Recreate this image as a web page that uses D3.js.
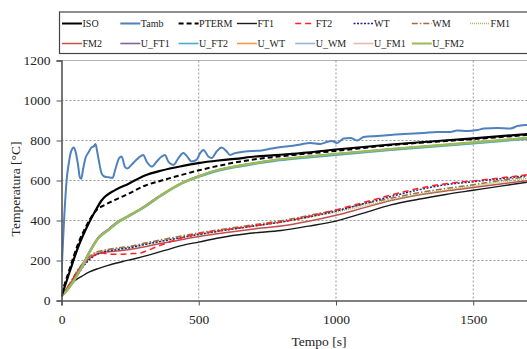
<!DOCTYPE html>
<html><head><meta charset="utf-8">
<script src="https://cdn.jsdelivr.net/npm/d3@7"></script>
<style>body{margin:0;background:#fff}svg{display:block}</style>
</head><body>
<svg id="c" width="527" height="349"></svg>
<script>
// ---------- DATA ----------
const xTicks = [0, 500, 1000, 1500];
const yTicks = [0, 200, 400, 600, 800, 1000, 1200];
const seriesNames = ["ISO","Tamb","PTERM","FT1","FT2","WT","WM","FM1","FM2","U_FT1","U_FT2","U_WT","U_WM","U_FM1","U_FM2"];

const ISO = [[0,20],[30,145],[60,265],[90,360],[122,445],[146,500],[195,552],[243,583],[304,625],[365,650],[438,672],[498,687],[571,700],[632,708],[705,720],[778,727],[840,733],[1000,755],[1200,780],[1500,811],[1720,835]];
const Tamb = [[0,140],[10,420],[20,620],[27,690],[33,736],[40,760],[45,765],[52,740],[60,680],[67,615],[72,609],[79,660],[88,715],[98,740],[110,766],[117,770],[124,782],[130,745],[136,700],[146,636],[156,620],[171,616],[186,613],[196,655],[210,712],[219,720],[231,669],[240,660],[255,678],[270,700],[280,712],[298,728],[310,695],[329,670],[347,695],[365,720],[377,728],[389,695],[408,678],[426,712],[444,737],[456,723],[474,695],[492,703],[505,737],[517,753],[535,720],[547,712],[565,745],[583,765],[602,745],[614,728],[632,737],[669,745],[700,748],[729,750],[766,760],[802,768],[833,772],[870,780],[906,788],[943,783],[967,793],[985,797],[1004,788],[1028,810],[1052,813],[1077,800],[1101,817],[1150,822],[1198,827],[1247,833],[1283,835],[1320,838],[1369,843],[1417,843],[1441,850],[1478,847],[1515,852],[1539,860],[1588,863],[1636,860],[1661,872],[1697,877],[1720,875]];
const PTERM = [[0,32],[30,160],[60,282],[90,372],[120,440],[135,462],[146,470],[195,503],[243,533],[304,574],[365,600],[438,628],[498,650],[571,673],[632,690],[705,706],[778,718],[840,727],[1000,748],[1200,777],[1500,807],[1720,830]];
const FT1 = [[0,20],[15,50],[33,78],[50,100],[75,122],[100,142],[136,161],[170,176],[221,194],[270,210],[317,227],[380,252],[445,277],[500,292],[566,311],[687,336],[800,350],[900,372],[1000,397],[1100,437],[1200,478],[1300,506],[1400,530],[1500,551],[1600,572],[1720,596]];
const FT2 = [[0,20],[30,82],[60,150],[90,198],[120,226],[150,238],[170,232],[200,231],[250,234],[281,236],[310,248],[340,265],[378,285],[420,305],[450,318],[500,334],[600,354],[700,373],[800,393],[900,420],[1000,453],[1100,490],[1200,527],[1300,560],[1400,584],[1500,598],[1600,613],[1720,633]];
const WT = [[0,20],[30,75],[60,133],[90,188],[120,224],[150,241],[200,254],[250,264],[300,279],[400,305],[500,330],[600,352],[700,372],[800,392],[900,418],[1000,447],[1100,484],[1200,520],[1300,553],[1400,579],[1500,594],[1600,609],[1720,628]];
const WM = [[0,20],[30,85],[60,155],[90,205],[120,238],[150,250],[200,262],[250,271],[300,286],[400,313],[500,338],[600,359],[700,379],[800,399],[900,425],[1000,452],[1100,482],[1200,511],[1300,539],[1400,560],[1500,579],[1600,600],[1720,624]];
const FM1 = [[0,20],[30,82],[60,150],[90,202],[120,235],[150,247],[200,258],[250,267],[300,281],[400,307],[500,331],[600,352],[700,372],[800,392],[900,416],[1000,443],[1100,472],[1200,502],[1300,530],[1400,552],[1500,572],[1600,592],[1720,614]];
const FM2 = [[0,20],[30,80],[60,145],[90,195],[120,228],[150,240],[200,247],[250,255],[300,268],[350,282],[400,295],[500,320],[600,340],[700,358],[800,372],[900,396],[1000,426],[1100,463],[1200,500],[1300,528],[1400,548],[1500,565],[1600,583],[1720,603]];
const U_FT1 = [[0,20],[20,52],[40,92],[75,174],[100,241],[136,320],[171,357],[208,398],[243,420],[304,473],[365,530],[438,588],[498,621],[571,653],[632,670],[705,687],[778,702],[840,711],[1000,732],[1200,756],[1500,789],[1720,814]];
const U_FT2 = [[0,20],[20,49],[40,86],[75,167],[100,233],[136,312],[171,350],[208,391],[243,418],[304,467],[365,524],[438,583],[498,616],[571,648],[632,665],[705,682],[778,697],[840,706],[1000,727],[1200,751],[1500,784],[1720,809]];
const U_WT = [[0,20],[20,50],[40,88],[75,169],[100,236],[136,316],[171,353],[208,394],[243,421],[304,470],[365,527],[438,586],[498,619],[571,651],[632,668],[705,685],[778,700],[840,709],[1000,730],[1200,754],[1500,787],[1720,812]];
const U_WM = [[0,20],[20,51],[40,90],[75,171],[100,239],[136,318],[171,356],[208,397],[243,424],[304,472],[365,529],[438,588],[498,621],[571,654],[632,671],[705,688],[778,704],[840,713],[1000,734],[1200,758],[1500,791],[1720,816]];
const U_FM1 = [[0,22],[20,50],[40,87],[75,168],[100,235],[136,314],[171,352],[208,393],[243,421],[304,469],[365,527],[438,586],[498,619],[571,652],[632,669],[705,686],[778,702],[840,711],[1000,732],[1200,756],[1500,789],[1720,814]];
const U_FM2 = [[0,20],[20,50],[40,88],[75,169],[100,236],[136,315],[171,353],[208,394],[243,422],[304,470],[365,528],[438,587],[498,620],[571,653],[632,670],[705,687],[778,703],[840,712],[1000,733],[1200,757],[1500,790],[1720,815]];

const seriesData = [ISO,Tamb,PTERM,FT1,FT2,WT,WM,FM1,FM2,U_FT1,U_FT2,U_WT,U_WM,U_FM1,U_FM2];

// ---------- STYLES ----------
const styles = {
  ISO:{c:"#000",w:2.2,d:null},
  Tamb:{c:"#4F81BD",w:2,d:null},
  PTERM:{c:"#000",w:2,d:"5,3"},
  FT1:{c:"#1a1a1a",w:1.4,d:null},
  FT2:{c:"#FF2020",w:1.5,d:"6,4"},
  WT:{c:"#1F1F8F",w:1.5,d:"2,1.5"},
  WM:{c:"#A0703C",w:1.5,d:"6,2,1.5,2"},
  FM1:{c:"#9BBB59",w:1.5,d:"1,1"},
  FM2:{c:"#C0504D",w:1.5,d:null},
  U_FT1:{c:"#8064A2",w:1.6,d:null},
  U_FT2:{c:"#4BACC6",w:1.6,d:null},
  U_WT:{c:"#F79646",w:1.6,d:null},
  U_WM:{c:"#95B3D7",w:1.6,d:null},
  U_FM1:{c:"#E6B9B8",w:1.6,d:null},
  U_FM2:{c:"#9BBB59",w:2.4,d:null}
};

const svg = d3.select("#c");
const X0 = 61.5, X1 = 577, Y0 = 300.5, Y1 = 60.5;
const x = d3.scaleLinear().domain([0, 1878]).range([X0, X1]);
const y = d3.scaleLinear().domain([0, 1200]).range([Y0, Y1]);
const font = "Liberation Serif, Times New Roman, serif";

// grid
const g = svg.append("g");
g.selectAll(".hg").data(yTicks.filter(v => v > 0 && v < 1200)).enter().append("line")
  .attr("x1", X0).attr("x2", X1).attr("y1", d => y(d)).attr("y2", d => y(d))
  .attr("stroke", "#8a8a8a").attr("stroke-width", 0.9).attr("stroke-dasharray", "2,2");
g.append("line").attr("x1", X0).attr("x2", X1).attr("y1", y(1200)).attr("y2", y(1200))
  .attr("stroke", "#b5b5b5").attr("stroke-width", 1);
g.selectAll(".vg").data(xTicks.filter(v => v > 0)).enter().append("line")
  .attr("x1", d => x(d)).attr("x2", d => x(d)).attr("y1", Y1).attr("y2", Y0)
  .attr("stroke", "#8a8a8a").attr("stroke-width", 0.9).attr("stroke-dasharray", "2,2");

// clip
svg.append("defs").append("clipPath").attr("id", "clip").append("rect")
  .attr("x", X0).attr("y", Y1 - 5).attr("width", X1 - X0).attr("height", Y0 - Y1 + 5);

const line = d3.line().x(d => x(d[0])).y(d => y(d[1])).curve(d3.curveMonotoneX);
const lg = svg.append("g").attr("clip-path", "url(#clip)");
const order = ["FT1","FM2","FM1","WM","WT","FT2","U_FM1","U_WM","U_WT","U_FT2","U_FT1","U_FM2","PTERM","ISO","Tamb"];
order.forEach(n => {
  const i = seriesNames.indexOf(n);
  const s = styles[n];
  lg.append("path").datum(seriesData[i]).attr("d", line)
    .attr("fill", "none").attr("stroke", s.c).attr("stroke-width", s.w)
    .attr("stroke-dasharray", s.d).attr("stroke-linejoin", "round");
});

// axes
const yAxis = d3.axisLeft(y).tickValues(yTicks).tickFormat(d3.format("d")).tickSize(5).tickPadding(6);
const ya = svg.append("g").attr("transform", `translate(${X0},0)`).call(yAxis);
const xAxis = d3.axisBottom(x).tickValues(xTicks).tickFormat(d3.format("d")).tickSize(5).tickPadding(9);
const xa = svg.append("g").attr("transform", `translate(0,${Y0})`).call(xAxis);
[ya, xa].forEach(a => {
  a.attr("font-family", null).attr("font-size", null);
  a.select(".domain").attr("stroke", "#555").attr("stroke-width", 1.6);
  a.selectAll(".tick line").attr("stroke", "#555").attr("stroke-width", 1);
  a.selectAll("text").style("font-family", font).style("font-size", "13.5px").attr("fill", "#222");
});

// axis titles
svg.append("text").attr("x", 319).attr("y", 346).attr("text-anchor", "middle")
  .style("font-family", font).style("font-size", "13.5px").attr("fill", "#222").text("Tempo [s]");
svg.append("text").attr("transform", "translate(20,189) rotate(-90)").attr("text-anchor", "middle")
  .style("font-family", font).style("font-size", "13.5px").attr("fill", "#222").text("Temperatura [°C]");

// legend
const leg = svg.append("g");
leg.append("rect").attr("x", 59.5).attr("y", 12).attr("width", 520).attr("height", 41.5)
  .attr("fill", "#fff").attr("stroke", "#444").attr("stroke-width", 1.2);
seriesNames.forEach((n, i) => {
  const row = i < 8 ? 0 : 1;
  const col = i < 8 ? i : i - 8;
  const lx = 62 + col * 58.3;
  const ly = row === 0 ? 23.5 : 43.5;
  const s = styles[n];
  leg.append("line").attr("x1", lx).attr("x2", lx + 20).attr("y1", ly).attr("y2", ly)
    .attr("stroke", s.c).attr("stroke-width", Math.min(s.w, 2)).attr("stroke-dasharray", s.d);
  leg.append("text").attr("x", lx + 20.5).attr("y", ly + 3.5)
    .style("font-family", font).style("font-size", "10px").attr("fill", "#222").text(n);
});
</script>
</body></html>
